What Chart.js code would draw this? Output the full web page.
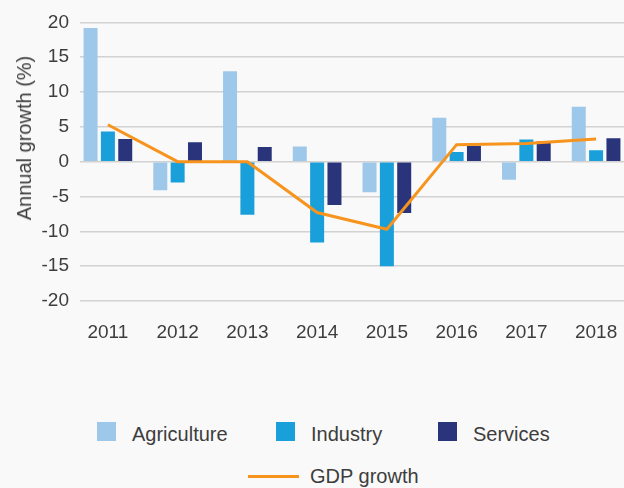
<!DOCTYPE html>
<html>
<head>
<meta charset="utf-8">
<script src="https://cdn.jsdelivr.net/npm/chart.js@4.4.1/dist/chart.umd.min.js"></script>
<style>
  html, body { margin: 0; padding: 0; background: #f9f9f9; }
  body { width: 624px; height: 488px; position: relative; overflow: hidden; font-family: "Liberation Sans", Arial, sans-serif; color: #3d3d3d; }
  #chartBox { position: absolute; left: 0; top: 0; width: 624px; height: 350px; }
  #yTitle { position: absolute; left: 24px; top: 138px; transform: translate(-50%, -50%) rotate(-90deg); white-space: nowrap; font-size: 20px; line-height: 24px; }
  .legend-item { position: absolute; display: flex; align-items: flex-start; height: 24px; font-size: 20px; line-height: 24px; white-space: nowrap; }
  .legend-item .swatch { width: 19px; height: 19px; margin-right: 16px; }
  .legend-item .swatch.line { width: 51px; height: 3px; margin-top: 11px; margin-right: 11px; }
  #legend .legend-item:nth-child(1) { left: 97px; top: 422px; }
  #legend .legend-item:nth-child(2) { left: 276px; top: 422px; }
  #legend .legend-item:nth-child(3) { left: 438px; top: 422px; }
  #legend .legend-item:nth-child(4) { left: 248px; top: 464px; }
</style>
</head>
<body>
<div id="chartBox"><canvas id="growthChart"></canvas></div>
<div id="yTitle">Annual growth (%)</div>
<div id="legend"></div>
<script>
const years = ["2011", "2012", "2013", "2014", "2015", "2016", "2017", "2018"];
const agriculture = [19.2, -4.1, 13.0, 2.2, -4.4, 6.3, -2.6, 7.9];
const industry = [4.35, -3.0, -7.6, -11.6, -15.0, 1.4, 3.2, 1.65];
const services = [3.25, 2.8, 2.1, -6.2, -7.35, 2.3, 2.9, 3.35];
const gdpGrowth = [5.3, 0, 0, -7.3, -9.7, 2.45, 2.6, 3.25];
const yMin = -20, yMax = 20, yStep = 5;

const textColor = "#3d3d3d";
const yearNums = years.map(Number);
const toPoints = vals => vals.map((v, i) => ({x: yearNums[i], y: v}));

const barStyle = {borderWidth: 0, categoryPercentage: 0.746, barPercentage: 0.807, order: 1};

const datasets = [
  {type: "bar", label: "Agriculture", data: toPoints(agriculture), backgroundColor: "#9ec8ea", ...barStyle},
  {type: "bar", label: "Industry", data: toPoints(industry), backgroundColor: "#199fda", ...barStyle},
  {type: "bar", label: "Services", data: toPoints(services), backgroundColor: "#29347a", ...barStyle},
  {type: "line", label: "GDP growth", data: toPoints(gdpGrowth), borderColor: "#f7941d", backgroundColor: "#f7941d",
   borderWidth: 3, pointRadius: 0, tension: 0, fill: false, order: 0}
];

new Chart(document.getElementById("growthChart"), {
  data: {datasets: datasets},
  options: {
    responsive: true,
    maintainAspectRatio: false,
    animation: false,
    layout: {padding: {top: 19, right: 0, bottom: 0, left: 0}},
    plugins: {legend: {display: false}, tooltip: {enabled: false}},
    scales: {
      x: {
        type: "linear",
        min: yearNums[0] - 0.4,
        max: yearNums[yearNums.length - 1] + 0.4,
        offset: false,
        grid: {display: false, drawTicks: false},
        border: {display: false},
        afterBuildTicks: scale => { scale.ticks = yearNums.map(v => ({value: v})); },
        afterFit: scale => { scale.height = 49; scale.paddingLeft = 0; scale.paddingRight = 0; },
        ticks: {callback: v => String(v), color: textColor, font: {size: 19, family: "'Liberation Sans', Arial, sans-serif"}, padding: 20, maxRotation: 0, autoSkip: false}
      },
      y: {
        min: yMin,
        max: yMax,
        afterFit: scale => { scale.width = 80; },
        grid: {color: "#d2d2d2", lineWidth: 1.5, drawTicks: false},
        border: {display: false},
        ticks: {stepSize: yStep, color: textColor, font: {size: 19, family: "'Liberation Sans', Arial, sans-serif"}, padding: 11}
      }
    }
  }
});

const legend = document.getElementById("legend");
datasets.forEach(ds => {
  const item = document.createElement("div");
  item.className = "legend-item";
  const sw = document.createElement("span");
  sw.className = ds.type === "line" ? "swatch line" : "swatch";
  sw.style.background = ds.type === "line" ? ds.borderColor : ds.backgroundColor;
  const label = document.createElement("span");
  label.textContent = ds.label;
  item.appendChild(sw);
  item.appendChild(label);
  legend.appendChild(item);
});
</script>
</body>
</html>
